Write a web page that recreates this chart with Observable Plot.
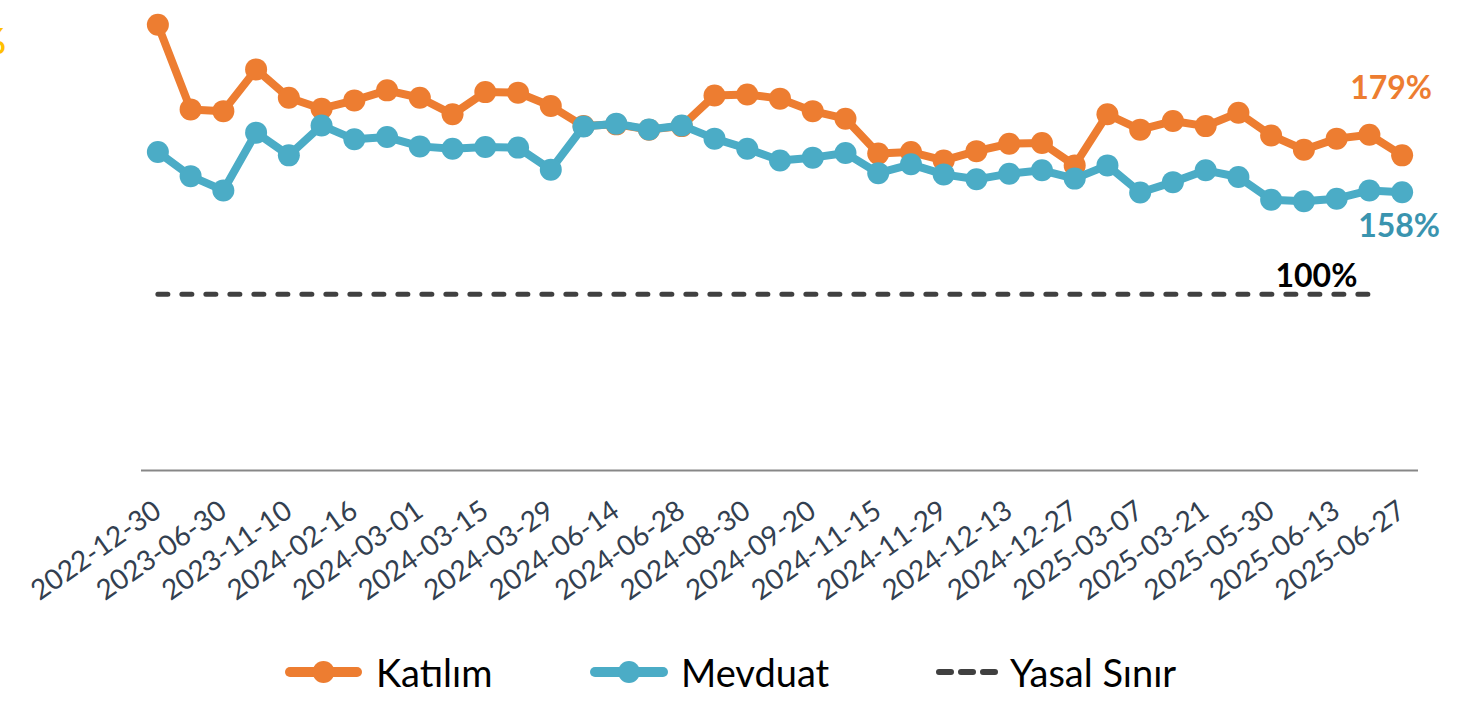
<!DOCTYPE html>
<html>
<head>
<meta charset="utf-8">
<script src="https://cdn.jsdelivr.net/npm/d3@7"></script>
<script src="https://cdn.jsdelivr.net/npm/@observablehq/plot@0.6"></script>
<style>
  body { margin: 0; background: #fff; font-family: Lato, "Open Sans", sans-serif; }
  #wrap { position: relative; width: 1462px; height: 703px; overflow: hidden; background: #fff; }
  #chart { position: absolute; left: 0; top: 0; }
  #legend { position: absolute; left: 0; top: 640px; width: 1462px; height: 63px; }
  .item { position: absolute; top: 0; height: 63px; display: flex; align-items: center; font-size: 38px; color: #000; white-space: nowrap; }
  .item svg { display: block; }
  #cut { position: absolute; left: -200px; top: 22px; width: 206px; text-align: right; color: #FFC000; font-size: 36px; font-weight: 700; line-height: 1; }
</style>
</head>
<body>
<div id="wrap">
  <div id="cut">%</div>
  <div id="chart"></div>
  <div id="legend"></div>
</div>
<script>
// ---- data ----
const dates = [
  "2022-12-30","2023-03-31","2023-06-30","2023-09-29","2023-11-10","2023-12-29",
  "2024-02-16","2024-02-23","2024-03-01","2024-03-08","2024-03-15","2024-03-22",
  "2024-03-29","2024-05-31","2024-06-14","2024-06-21","2024-06-28","2024-07-26",
  "2024-08-30","2024-09-13","2024-09-20","2024-10-25","2024-11-15","2024-11-22",
  "2024-11-29","2024-12-06","2024-12-13","2024-12-20","2024-12-27","2025-01-31",
  "2025-03-07","2025-03-14","2025-03-21","2025-04-30","2025-05-30","2025-06-06",
  "2025-06-13","2025-06-20","2025-06-27"
];
const tickLabels = [
  "2022-12-30","2023-06-30","2023-11-10","2024-02-16","2024-03-01","2024-03-15",
  "2024-03-29","2024-06-14","2024-06-28","2024-08-30","2024-09-20","2024-11-15",
  "2024-11-29","2024-12-13","2024-12-27","2025-03-07","2025-03-21","2025-05-30",
  "2025-06-13","2025-06-27"
];
const katilim = [
  253, 205, 204, 227.7, 211.6, 205.4, 210.1, 215.8, 211.6, 202.2,
  214.8, 214.5, 206.9, 195.5, 196.5, 193.5, 195.5, 212.9, 213.5, 211.1,
  204, 199.7, 179.9, 180.8, 176, 181.3, 185.5, 185.9, 173.2, 202.2,
  193.5, 198.4, 195.5, 203.1, 190.2, 182.1, 188.4, 190.6, 178.9
];
const mevduat = [
  180.8, 167.1, 159, 191.8, 178.9, 195.9, 188, 189.3, 184, 182.7,
  183.6, 183.3, 170.8, 195.3, 196.9, 193.6, 195.9, 188.4, 182.7, 176,
  177.6, 180.2, 168.8, 173.8, 168.1, 165.3, 168.5, 170.4, 165.7, 173.2,
  157.8, 163.7, 170.4, 166.6, 153.7, 152.9, 154.3, 159, 158
];
const yasalSinir = [
  100,100,100,100,100,100,100,100,100,100,
  100,100,100,100,100,100,100,100,100,100,
  100,100,100,100,100,100,100,100,100,100,
  100,100,100,100,100,100,100,100
];
const seriesNames = ["Katılım", "Mevduat", "Yasal Sınır"];
const seriesColors = ["#ED7D31", "#4BACC6", "#404040"];

// ---- tables ----
const rowsK = katilim.map((v, i) => ({date: dates[i], value: v}));
const rowsM = mevduat.map((v, i) => ({date: dates[i], value: v}));
const rowsY = yasalSinir.map((v, i) => ({date: dates[i], value: v}));
const lastK = rowsK[rowsK.length - 1];
const lastM = rowsM[rowsM.length - 1];
const lastY = rowsY[rowsY.length - 1];
const pct = d => `${Math.round(d.value)}%`;

const chart = Plot.plot({
  width: 1462,
  height: 640,
  marginLeft: 141,
  marginRight: 44,
  marginTop: 12,
  marginBottom: 170,
  style: {fontFamily: "Lato, 'Open Sans', sans-serif", background: "transparent", overflow: "visible"},
  x: {type: "point", domain: dates, padding: 0.5, round: false, label: null},
  y: {domain: [0, 260], axis: null},
  marks: [
    Plot.ruleY([0], {stroke: "#878787", strokeWidth: 2}),
    Plot.axisX({ticks: tickLabels, tickRotate: -35, tickSize: 0, tickPadding: 37,
                fontSize: 28, color: "#333F50", label: null}),
    Plot.line(rowsY, {x: "date", y: "value", stroke: seriesColors[2], strokeWidth: 5,
                      strokeDasharray: "10,14", strokeLinecap: "round"}),
    Plot.line(rowsK, {x: "date", y: "value", stroke: seriesColors[0], strokeWidth: 8, strokeLinejoin: "round"}),
    Plot.dot(rowsK, {x: "date", y: "value", r: 11, fill: seriesColors[0]}),
    Plot.line(rowsM, {x: "date", y: "value", stroke: seriesColors[1], strokeWidth: 8, strokeLinejoin: "round"}),
    Plot.dot(rowsM, {x: "date", y: "value", r: 11, fill: seriesColors[1]}),
    Plot.text([lastK], {x: "date", y: "value", text: pct, dx: -11, dy: -67,
                        fill: "#ED7D31", fontSize: 32, fontWeight: "bold"}),
    Plot.text([lastM], {x: "date", y: "value", text: pct, dx: -3, dy: 35,
                        fill: "#3A94AF", fontSize: 32, fontWeight: "bold"}),
    Plot.text([lastY], {x: "date", y: "value", text: pct, textAnchor: "end", dx: -12, dy: -18,
                        fill: "#000", fontSize: 32, fontWeight: "bold"})
  ]
});
document.getElementById("chart").appendChild(chart);

// ---- legend ----
const legend = document.getElementById("legend");
const legendLayout = [
  {left: 285, sw: 77, gap: 14, kind: "dot"},
  {left: 590, sw: 78, gap: 13, kind: "dot"},
  {left: 935, sw: 63, gap: 12, kind: "dash"}
];
seriesNames.forEach((name, i) => {
  const L = legendLayout[i];
  const item = document.createElement("div");
  item.className = "item";
  item.style.left = L.left + "px";
  const ns = "http://www.w3.org/2000/svg";
  const svg = document.createElementNS(ns, "svg");
  svg.setAttribute("width", L.sw);
  svg.setAttribute("height", 30);
  svg.style.marginRight = L.gap + "px";
  const line = document.createElementNS(ns, "line");
  line.setAttribute("y1", 15); line.setAttribute("y2", 15);
  line.setAttribute("stroke", seriesColors[i]);
  line.setAttribute("stroke-linecap", "round");
  if (L.kind === "dot") {
    line.setAttribute("x1", 5); line.setAttribute("x2", L.sw - 5);
    line.setAttribute("stroke-width", 10);
    svg.appendChild(line);
    const c = document.createElementNS(ns, "circle");
    c.setAttribute("cx", L.sw / 2); c.setAttribute("cy", 15); c.setAttribute("r", 11);
    c.setAttribute("fill", seriesColors[i]);
    svg.appendChild(c);
  } else {
    line.setAttribute("x1", 4); line.setAttribute("x2", L.sw - 3);
    line.setAttribute("stroke-width", 6);
    line.setAttribute("stroke-dasharray", "12,10");
    svg.appendChild(line);
  }
  item.appendChild(svg);
  const t = document.createElement("span");
  t.textContent = name;
  item.appendChild(t);
  legend.appendChild(item);
});
</script>
</body>
</html>
